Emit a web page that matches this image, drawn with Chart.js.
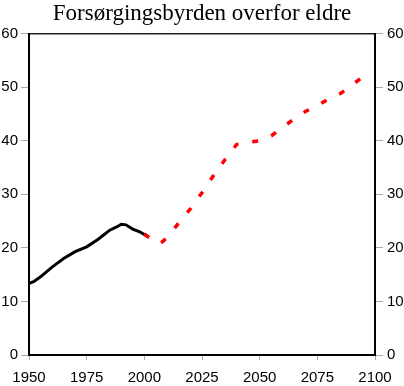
<!DOCTYPE html>
<html>
<head>
<meta charset="utf-8">
<script src="https://cdn.jsdelivr.net/npm/chart.js@4"></script>
<style>
  html, body { margin: 0; padding: 0; background: #fff; }
  #wrap { width: 404px; height: 386px; }
</style>
</head>
<body>
<div id="wrap"><canvas id="burdenChart" width="404" height="386"></canvas></div>
<script>
        // Chart title
        const chartTitle = 'Forsørgingsbyrden overfor eldre';
        // Historical values (black line)
        const histYears = [1950, 1952, 1955, 1960, 1965, 1970, 1975, 1980, 1985, 1988, 1990, 1992, 1995, 1998, 2000, 2002];
        const histValues = [13.4, 13.7, 14.6, 16.4, 18.0, 19.3, 20.2, 21.6, 23.3, 23.9, 24.4, 24.3, 23.5, 23.0, 22.5, 22.0];
        // Projected values (red dashed line)
        const projYears = [2000, 2003, 2005, 2007, 2010, 2015, 2020, 2025, 2030, 2035, 2040, 2045, 2050, 2055, 2060, 2065, 2070, 2075, 2080, 2085, 2090, 2095, 2097];
        const projValues = [22.6, 21.6, 21.1, 20.8, 22.0, 24.7, 27.3, 30.3, 33.5, 36.5, 39.3, 39.7, 40.0, 40.9, 42.5, 44.1, 45.5, 46.6, 47.8, 48.8, 50.4, 52.0, 52.6];
        // Axis ticks
        const xTicks = [1950, 1975, 2000, 2025, 2050, 2075, 2100];
        const yTicks = [0, 10, 20, 30, 40, 50, 60];

        const tickFont = { family: '"Liberation Sans", Arial, sans-serif', size: 15 };

        function toPoints(xs, ys) {
            return xs.map((x, i) => ({ x: x, y: ys[i] }));
        }

        var ctx = document.getElementById('burdenChart').getContext('2d');
        var chart = new Chart(ctx, {
            type: 'line',
            data: {
                datasets: [{
                    label: 'Framskriving',
                    data: toPoints(projYears, projValues),
                    borderColor: '#ff0000',
                    borderWidth: 3.5,
                    borderDash: [6, 14],
                    pointRadius: 0,
                    tension: 0,
                    order: 0
                }, {
                    label: 'Historisk',
                    data: toPoints(histYears, histValues),
                    borderColor: '#000000',
                    borderWidth: 3,
                    pointRadius: 0,
                    tension: 0,
                    order: 1
                }]
            },
            options: {
                responsive: false,
                animation: false,
                layout: { padding: 0 },
                plugins: {
                    legend: { display: false },
                    tooltip: { enabled: false },
                    title: {
                        display: true,
                        text: chartTitle,
                        color: '#000',
                        font: { family: '"Liberation Serif", "Times New Roman", serif', size: 23, weight: 'normal' },
                        padding: { top: 0, bottom: 6 }
                    }
                },
                scales: {
                    x: {
                        type: 'linear',
                        position: 'bottom',
                        min: 1950,
                        max: 2100,
                        afterBuildTicks: (axis) => { axis.ticks = xTicks.map(v => ({ value: v })); },
                        afterFit: (axis) => { axis.height = 31; },
                        ticks: { color: '#000', font: tickFont, padding: 9, maxRotation: 0, callback: (v) => String(v) },
                        grid: { drawOnChartArea: false, tickLength: 5, color: '#aaa' },
                        border: { color: '#000', width: 2 }
                    },
                    xTop: {
                        type: 'linear',
                        position: 'top',
                        min: 1950,
                        max: 2100,
                        afterFit: (axis) => { axis.height = 0; },
                        ticks: { display: false },
                        grid: { display: false },
                        border: { color: '#222', width: 1.5 }
                    },
                    y: {
                        position: 'left',
                        min: 0,
                        max: 60,
                        afterBuildTicks: (axis) => { axis.ticks = yTicks.map(v => ({ value: v })); },
                        afterFit: (axis) => { axis.width = 29; },
                        ticks: { color: '#000', font: tickFont, padding: 3 },
                        grid: { drawOnChartArea: false, tickLength: 8, color: '#aaa' },
                        border: { color: '#000', width: 2 }
                    },
                    yRight: {
                        position: 'right',
                        min: 0,
                        max: 60,
                        afterBuildTicks: (axis) => { axis.ticks = yTicks.map(v => ({ value: v })); },
                        afterFit: (axis) => { axis.width = 29; },
                        ticks: { color: '#000', font: tickFont, padding: 4 },
                        grid: { drawOnChartArea: false, tickLength: 8, color: '#aaa' },
                        border: { color: '#000', width: 2 }
                    }
                }
            }
        });
</script>
</body>
</html>
